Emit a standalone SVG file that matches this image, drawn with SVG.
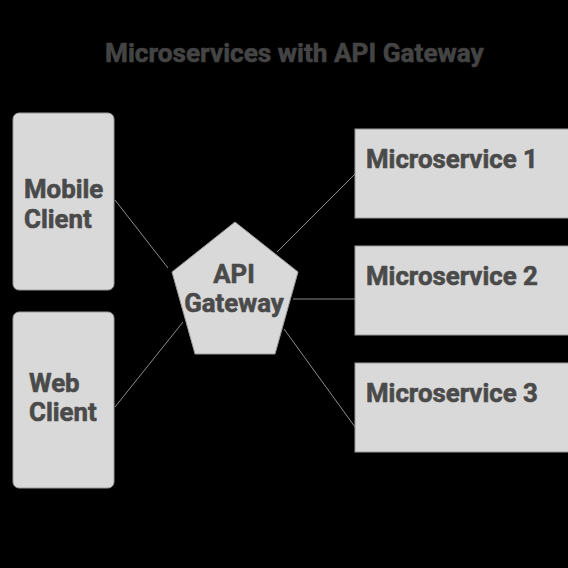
<svg xmlns="http://www.w3.org/2000/svg" width="568" height="568" viewBox="0 0 568 568">
<style>
.bg{fill:#000}
.box{fill:#d9d9d9;stroke:#9a9a9a;stroke-width:1}
.lbl{font-family:Roboto,"Liberation Sans",sans-serif;font-weight:bold;font-size:25.8px;fill:#4a4a4a;stroke:#4a4a4a;stroke-width:0.6}
.title{font-family:Roboto,"Liberation Sans",sans-serif;font-weight:bold;font-size:26.2px;fill:#444;stroke:#444;stroke-width:0.6}
.conn line{stroke:#8c8c8c;stroke-width:1}
</style>
<rect class="bg" x="0" y="0" width="568" height="568"/>
<text class="title" x="105" y="62">Microservices with API Gateway</text>
<g class="conn" id="connectors">
<line x1="115" y1="200" x2="168" y2="268"/>
<line x1="115" y1="407" x2="183" y2="322"/>
<line x1="277" y1="252" x2="355" y2="174"/>
<line x1="293" y1="299" x2="355" y2="299"/>
<line x1="284" y1="329" x2="355" y2="427"/>
</g>
<g id="mobile-client">
<rect class="box" x="13" y="113" width="101" height="177" rx="6"/>
<text class="lbl" x="24" y="198">Mobile</text>
<text class="lbl" x="24" y="228">Client</text>
</g>
<g id="web-client">
<rect class="box" x="13" y="312" width="101" height="176" rx="6"/>
<text class="lbl" x="29" y="392">Web</text>
<text class="lbl" x="29" y="421">Client</text>
</g>
<g id="api-gateway">
<polygon class="box" points="235,222 298,272 275,354 195,354 172,272"/>
<text class="lbl" x="234" y="283" text-anchor="middle">API</text>
<text class="lbl" x="234" y="312" text-anchor="middle">Gateway</text>
</g>
<g id="microservice-1">
<rect class="box" x="355" y="129" width="220" height="89"/>
<text class="lbl" x="366" y="168">Microservice 1</text>
</g>
<g id="microservice-2">
<rect class="box" x="355" y="246" width="220" height="89"/>
<text class="lbl" x="366" y="285">Microservice 2</text>
</g>
<g id="microservice-3">
<rect class="box" x="355" y="363" width="220" height="89"/>
<text class="lbl" x="366" y="402">Microservice 3</text>
</g>
</svg>
